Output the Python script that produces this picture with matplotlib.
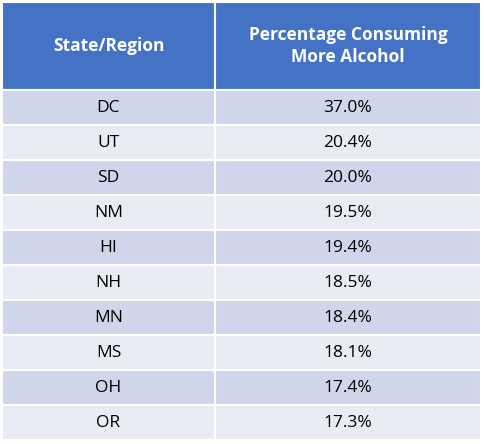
import matplotlib
matplotlib.use("Agg")
import matplotlib.pyplot as plt
from matplotlib.patches import Rectangle

headers = ["State/Region", "Percentage Consuming\nMore Alcohol"]
states = ["DC", "UT", "SD", "NM", "HI", "NH", "MN", "MS", "OH", "OR"]
values = [37.0, 20.4, 20.0, 19.5, 19.4, 18.5, 18.4, 18.1, 17.4, 17.3]

W, H = 484, 444
fig = plt.figure(figsize=(W/100, H/100), dpi=100)
ax = fig.add_axes([0, 0, 1, 1])
ax.set_xlim(0, W); ax.set_ylim(H, 0); ax.axis("off")

x0, x1, x2 = 2, 215, 481
top, hdr_bot, row_h = 2, 90, 35.0
fam = ["Open Sans", "DejaVu Sans"]

for xa, xb, t in [(x0, x1, headers[0]), (x1, x2, headers[1])]:
    ax.add_patch(Rectangle((xa, top), xb-xa, hdr_bot-top, facecolor="#4472C4", edgecolor="white", lw=1.5))
    ax.text((xa+xb)/2, (top+hdr_bot)/2, t, ha="center", va="center", color="white",
            fontsize=12.5, fontweight="bold", family=fam, linespacing=1.3)

for i, (s, v) in enumerate(zip(states, values)):
    y = hdr_bot + i*row_h
    c = "#CFD5EA" if i % 2 == 0 else "#E9EBF5"
    for xa, xb, t in [(x0, x1, s), (x1, x2, f"{v:.1f}%")]:
        ax.add_patch(Rectangle((xa, y), xb-xa, row_h, facecolor=c, edgecolor="white", lw=1.5))
        ax.text((xa+xb)/2, y+row_h/2, t, ha="center", va="center", color="black",
                fontsize=12.5, family=fam)

fig.savefig("out.png", dpi=100, facecolor="white")
